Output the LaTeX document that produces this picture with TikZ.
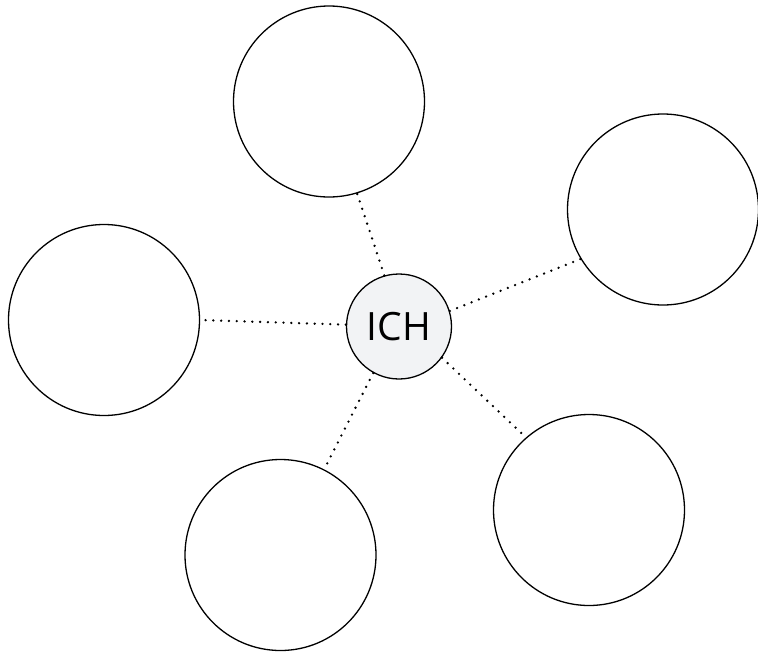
\documentclass[tikz,border=0pt]{standalone}
\usepackage{fontspec}
\setmainfont{Open Sans}
\definecolor{hubfill}{RGB}{242,243,245}
\begin{document}
\begin{tikzpicture}[x=1pt,y=-1pt,
  bigcirc/.style={circle,draw=black,line width=1.3pt,minimum size=191pt,inner sep=0pt,fill=white},
  hub/.style={circle,draw=black,line width=1.3pt,minimum size=105pt,inner sep=0pt,fill=hubfill,font=\fontsize{39}{44}\selectfont},
  link/.style={line width=2.6pt,line cap=round,dash pattern=on 0pt off 7.8pt}]
\useasboundingbox (0,0) rectangle (758,651);
\node[hub] (ich) at (399,326.5) {ICH};
\node[bigcirc] (top) at (329,101.5) {};
\node[bigcirc] (right) at (663,209.5) {};
\node[bigcirc] (left) at (104,320) {};
\node[bigcirc] (bl) at (280.5,555) {};
\node[bigcirc] (br) at (589,510) {};
\draw[link] (ich.106.4) -- (top.287.4);
\draw[link] (ich.17.4) -- (right.211.9);
\draw[link] (ich.178.5) -- (left.0);
\draw[link] (ich.241.3) -- (bl.63.4);
\draw[link] (ich.324) -- (br.131.2);
\end{tikzpicture}
\end{document}
